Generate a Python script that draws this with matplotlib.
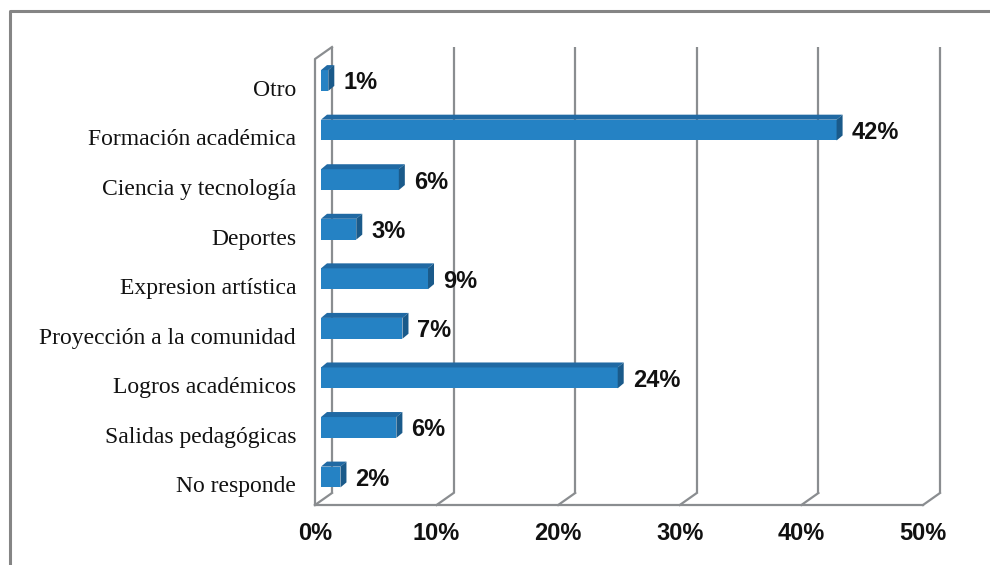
import matplotlib
matplotlib.use("Agg")
import matplotlib.pyplot as plt
from matplotlib.patches import Polygon
from matplotlib.lines import Line2D

# ---- data (bottom to top) ----
categories = ["No responde", "Salidas pedagógicas", "Logros académicos",
              "Proyección a la comunidad", "Expresion artística", "Deportes",
              "Ciencia y tecnología", "Formación académica", "Otro"]
values = [1.6, 6.2, 24.4, 6.7, 8.8, 2.9, 6.4, 42.4, 0.6]
value_labels = ["2%", "6%", "24%", "7%", "9%", "3%", "6%", "42%", "1%"]
x_ticks = [0, 10, 20, 30, 40, 50]
x_tick_labels = ["0%", "10%", "20%", "30%", "40%", "50%"]

W, H = 990, 565
fig = plt.figure(figsize=(W / 100, H / 100), dpi=100)
ax = fig.add_axes([0, 0, 1, 1])
ax.set_axis_off()

px_per_x = 12.16
px_per_y = 49.56
x0_px = 315
y0_px = 477
ax.set_xlim(-x0_px / px_per_x, (W - x0_px) / px_per_x)
ax.set_ylim((y0_px - H) / px_per_y, y0_px / px_per_y)

grid_c = "#8a8d90"
lw = 1.6
floor_y = -0.565
top_back = 8.676
dxw, dyw = 17 / px_per_x, 12 / px_per_y

# back wall gridlines
for g in x_ticks:
    ax.plot([g + dxw, g + dxw], [floor_y + dyw, top_back], color=grid_c, lw=lw,
            solid_capstyle="butt", zorder=1)
    ax.plot([g, g + dxw], [floor_y, floor_y + dyw], color=grid_c, lw=lw, zorder=1)
# floor front edge
ax.plot([0, x_ticks[-1]], [floor_y, floor_y], color=grid_c, lw=lw, zorder=1)
# left wall front edge
ax.plot([0, 0, dxw], [floor_y, top_back - dyw, top_back], color=grid_c, lw=lw, zorder=1)

# bars (front face + top + side)
bx = 6 / px_per_x      # offset of bar front face from front wall
bh = 0.42              # bar front height
sdx, sdy = 6 / px_per_x, 5 / px_per_y
front_c, top_c, side_c = "#2582c4", "#2069a3", "#1a5a8a"
for i, v in enumerate(values):
    y = i
    ax.barh(y, v, left=bx, height=bh, color=front_c, edgecolor="none", zorder=3)
    x1 = bx + v
    yt, yb = y + bh / 2, y - bh / 2
    ax.add_patch(Polygon([(bx, yt), (x1, yt), (x1 + sdx, yt + sdy), (bx + sdx, yt + sdy)],
                         closed=True, color=top_c, lw=0, zorder=3))
    ax.add_patch(Polygon([(x1, yb), (x1, yt), (x1 + sdx, yt + sdy), (x1 + sdx, yb + sdy)],
                         closed=True, color=side_c, lw=0, zorder=3))
    ax.text(x1 + sdx + 9 / px_per_x, y - 0.05, value_labels[i], ha="left", va="center",
            fontsize=17, fontweight="bold", family="Liberation Sans", color="#111111",
            zorder=4)
    ax.text(-19 / px_per_x, y - 0.2, categories[i], ha="right", va="center",
            fontsize=17, family="Liberation Serif", color="#111111")

for g, lab in zip(x_ticks, x_tick_labels):
    ax.text(g, -1.15, lab, ha="center", va="center", fontsize=17, fontweight="bold",
            family="Liberation Sans", color="#111111")

# outer chart frame
fx, fy = 9.5 / W, 1 - 10.5 / H
fig.add_artist(Line2D([fx, fx, 1.0], [0.0, fy, fy], transform=fig.transFigure,
                      color="#858585", lw=2.2))

fig.savefig("out.png", dpi=100)
